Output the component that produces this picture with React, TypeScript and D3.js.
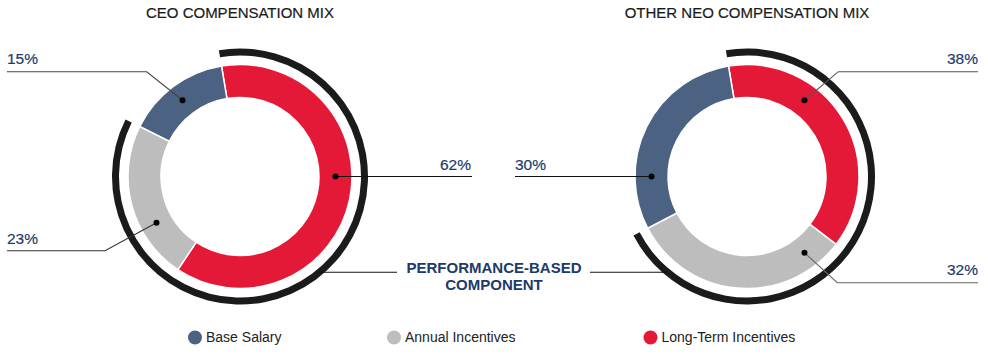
import React from "react";
import * as d3 from "d3";

const categories = ["Long-Term Incentives", "Annual Incentives", "Base Salary"];
const ceoValues = [62, 23, 15];
const neoValues = [38, 32, 30];
const chartTitles = ["CEO COMPENSATION MIX", "OTHER NEO COMPENSATION MIX"];
const legendOrder = ["Base Salary", "Annual Incentives", "Long-Term Incentives"];
const performanceLabel = ["PERFORMANCE-BASED", "COMPONENT"];

const colors: Record<string, string> = {
  "Base Salary": "#4b6283",
  "Annual Incentives": "#bdbdbd",
  "Long-Term Incentives": "#e31937",
};

const W = 988;
const H = 357;
const R_OUT = 112;
const R_IN = 79;
const RING_IN = 121;
const RING_OUT = 128;
const START = (-9.5 * Math.PI) / 180;
const LABEL_COLOR = "#1c3a6a";
const FONT = "'Liberation Sans', Arial, Helvetica, sans-serif";

type LabelCfg = {
  angle: number; // degrees, clockwise from top
  elbow?: [number, number];
  endX: number;
  textX: number;
  textY: number;
  anchor: "start" | "end";
  lineColor: string;
};

type ChartCfg = {
  cx: number;
  cy: number;
  values: number[];
  title: string;
  labels: LabelCfg[]; // indexed like categories
};

const charts: ChartCfg[] = [
  {
    cx: 240,
    cy: 176.5,
    values: ceoValues,
    title: chartTitles[0],
    labels: [
      { angle: 90, endX: 472, textX: 471, textY: 170, anchor: "end", lineColor: "#111" },
      { angle: 241, elbow: [105, 250.7], endX: 7, textX: 7, textY: 244, anchor: "start", lineColor: "#333" },
      { angle: 323, elbow: [146.7, 71.7], endX: 7, textX: 7, textY: 64, anchor: "start", lineColor: "#444" },
    ],
  },
  {
    cx: 747,
    cy: 176.5,
    values: neoValues,
    title: chartTitles[1],
    labels: [
      { angle: 37, elbow: [838.3, 71.7], endX: 978, textX: 978, textY: 63.5, anchor: "end", lineColor: "#555" },
      { angle: 143, elbow: [837.3, 282.7], endX: 978, textX: 978, textY: 275, anchor: "end", lineColor: "#666" },
      { angle: 270, endX: 515, textX: 515, textY: 170, anchor: "start", lineColor: "#111" },
    ],
  },
];

function Donut({ cfg }: { cfg: ChartCfg }) {
  const data = categories.map((c, i) => ({ cat: c, value: cfg.values[i] }));
  const pie = d3
    .pie<{ cat: string; value: number }>()
    .value((d) => d.value)
    .sort(null)
    .startAngle(START)
    .endAngle(START + 2 * Math.PI);
  const arcs = pie(data);
  const arcGen = d3.arc<d3.PieArcDatum<{ cat: string; value: number }>>().innerRadius(R_IN).outerRadius(R_OUT);
  const perfEnd = arcs[1].endAngle;
  const ring = d3.arc()({
    innerRadius: RING_IN,
    outerRadius: RING_OUT,
    startAngle: START,
    endAngle: perfEnd,
  } as any) as string;
  const rMid = (R_IN + R_OUT) / 2;
  return (
    <g>
      <text
        x={cfg.cx}
        y={18.3}
        textAnchor="middle"
        fontFamily={FONT}
        fontSize={15}
        fill="#1a1a1a"
        stroke="#1a1a1a"
        strokeWidth={0.2}
      >
        {cfg.title}
      </text>
      <g transform={`translate(${cfg.cx},${cfg.cy})`}>
        <path d={ring} fill="#1b1b1b" />
        {arcs.map((a) => (
          <path key={a.data.cat} d={arcGen(a) as string} fill={colors[a.data.cat]} stroke="#fff" strokeWidth={1.5} />
        ))}
      </g>
      {cfg.labels.map((l, i) => {
        const ang = (l.angle * Math.PI) / 180;
        const dx = cfg.cx + rMid * Math.sin(ang);
        const dy = cfg.cy - rMid * Math.cos(ang);
        const pts: [number, number][] = l.elbow
          ? [[dx, dy], l.elbow, [l.endX, l.elbow[1]]]
          : [[dx, dy], [l.endX, dy]];
        const line = d3.line()(pts) as string;
        return (
          <g key={i}>
            <path d={line} fill="none" stroke={l.lineColor} strokeWidth={1.1} />
            <circle cx={dx} cy={dy} r={3} fill="#000" />
            <text
              x={l.textX}
              y={l.textY}
              textAnchor={l.anchor}
              fontFamily={FONT}
              fontSize={15.5}
              fill={LABEL_COLOR}
              stroke={LABEL_COLOR}
              strokeWidth={0.18}
            >
              {`${cfg.values[i]}%`}
            </text>
          </g>
        );
      })}
    </g>
  );
}

export default function App() {
  const lineY = 272.3;
  const ringMidR = (RING_IN + RING_OUT) / 2;
  const dyL = lineY - charts[0].cy;
  const leftX = charts[0].cx + Math.sqrt(ringMidR * ringMidR - dyL * dyL);
  const dyR = lineY - charts[1].cy;
  const rightX = charts[1].cx - Math.sqrt(ringMidR * ringMidR - dyR * dyR);
  const legendX = [195, 394, 650.5];
  return (
    <svg
      width={W}
      height={H}
      viewBox={`0 0 ${W} ${H}`}
      style={{ position: "absolute", left: 0, top: 0, background: "#fff" }}
    >
      <rect width={W} height={H} fill="#fff" />
      {charts.map((c, i) => (
        <Donut key={i} cfg={c} />
      ))}
      <line x1={leftX} x2={397} y1={lineY} y2={lineY} stroke="#111" strokeWidth={1.1} />
      <line x1={590} x2={rightX} y1={lineY} y2={lineY} stroke="#111" strokeWidth={1.1} />
      <text
        x={494}
        y={273}
        textAnchor="middle"
        fontFamily={FONT}
        fontWeight="bold"
        fontSize={15}
        fill={LABEL_COLOR}
      >
        <tspan x={494} y={273}>{performanceLabel[0]}</tspan>
        <tspan x={494} y={289.7}>{performanceLabel[1]}</tspan>
      </text>
      {legendOrder.map((c, i) => (
        <g key={c}>
          <circle cx={legendX[i]} cy={337.5} r={7} fill={colors[c]} />
          <text x={legendX[i] + 11} y={342} fontFamily={FONT} fontSize={14} fill="#222">
            {c}
          </text>
        </g>
      ))}
    </svg>
  );
}
